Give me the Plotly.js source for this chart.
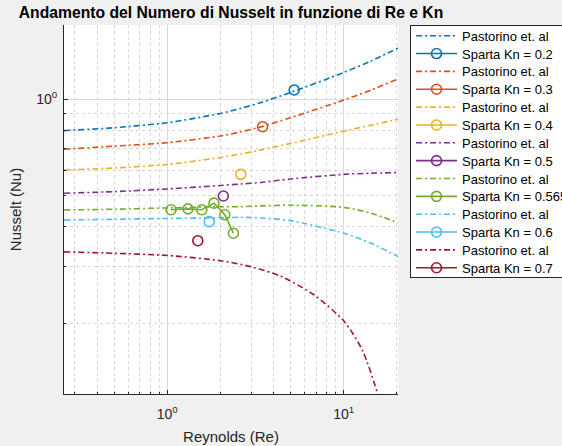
<!DOCTYPE html>
<html>
<head>
<meta charset="utf-8">
<script src="https://cdn.plot.ly/plotly-3.0.1.min.js"></script>
<style>
  html, body { margin: 0; padding: 0; background: #f0f0f0; }
  #chart { width: 562px; height: 446px; }
</style>
</head>
<body>
<div id="chart"></div>
<script>
// Reynolds grid for the Pastorino et al. correlation curves
const reGrid = [0.26, 0.5, 1, 2, 2.6, 3.4, 5, 10, 14.3, 20.3];

// Pastorino et al. Nusselt curves, one per Knudsen number
const pastNu02   = [0.798, 0.815, 0.845, 0.903, 0.936, 0.977, 1.050, 1.212, 1.317, 1.445];
const pastNu03   = [0.698, 0.714, 0.732, 0.768, 0.791, 0.820, 0.876, 0.994, 1.069, 1.157];
const pastNu04   = [0.602, 0.610, 0.626, 0.658, 0.675, 0.695, 0.728, 0.795, 0.830, 0.866];
const pastNu05   = [0.509, 0.515, 0.525, 0.538, 0.544, 0.550, 0.564, 0.583, 0.588, 0.590];
const pastNu0565 = [0.4515, 0.4537, 0.458, 0.462, 0.4622, 0.4648, 0.467, 0.460, 0.441, 0.412];
const pastNu06   = [0.420, 0.422, 0.4246, 0.4268, 0.4283, 0.4262, 0.418, 0.382, 0.3554, 0.3228];

// Kn = 0.7 curve drops steeply, so it has its own Reynolds grid
const reGrid07 = [0.26, 0.5, 1, 2, 2.97, 4.4, 6.8, 10.1, 12.8, 15.6, 17.6];
const pastNu07 = [0.334, 0.3307, 0.3256, 0.3135, 0.3004, 0.2804, 0.245, 0.2023, 0.164, 0.120, 0.0929];

// Sparta DSMC results
const spartaRe02 = [5.24],  spartaNu02 = [1.069];
const spartaRe03 = [3.47],  spartaNu03 = [0.821];
const spartaRe04 = [2.61],  spartaNu04 = [0.583];
const spartaRe05 = [2.08],  spartaNu05 = [0.499];
const spartaRe0565 = [1.05, 1.31, 1.57, 1.84, 2.12, 2.37];
const spartaNu0565 = [0.452, 0.455, 0.452, 0.474, 0.436, 0.382];
const spartaRe06 = [1.73],  spartaNu06 = [0.415];
const spartaRe07 = [1.49],  spartaNu07 = [0.362];

const knLabels = ['0.2', '0.3', '0.4', '0.5', '0.565', '0.6', '0.7'];
const colors = ['#0072BD', '#D95319', '#EDB120', '#7E2F8E', '#77AC30', '#4DBEEE', '#A2142F'];

const pastRe = [reGrid, reGrid, reGrid, reGrid, reGrid, reGrid, reGrid07];
const pastNu = [pastNu02, pastNu03, pastNu04, pastNu05, pastNu0565, pastNu06, pastNu07];
const spRe = [spartaRe02, spartaRe03, spartaRe04, spartaRe05, spartaRe0565, spartaRe06, spartaRe07];
const spNu = [spartaNu02, spartaNu03, spartaNu04, spartaNu05, spartaNu0565, spartaNu06, spartaNu07];

const dashDot = '6px,3px,2px,3px';
const traces = [];
for (let i = 0; i < knLabels.length; i++) {
  traces.push({
    x: pastRe[i], y: pastNu[i],
    type: 'scatter', mode: 'lines',
    name: 'Pastorino et. al',
    line: { color: colors[i], width: 1.6, dash: dashDot, shape: 'spline', smoothing: 0.7 },
    hoverinfo: 'skip'
  });
  traces.push({
    x: spRe[i], y: spNu[i],
    type: 'scatter', mode: 'lines+markers',
    name: 'Sparta Kn = ' + knLabels[i],
    line: { color: colors[i], width: 1.6 },
    marker: { symbol: 'circle-open', size: 10, color: colors[i], line: { width: 1.6, color: colors[i] } }
  });
}

const font = 'Liberation Sans, Arial, Helvetica, sans-serif';
const gridMajor = '#d9d9d9';
const gridMinor = '#d6d6d6';
const axisColor = '#262626';

const layout = {
  width: 562, height: 446,
  paper_bgcolor: '#f0f0f0',
  plot_bgcolor: '#ffffff',
  margin: { l: 64, r: 164, t: 25, b: 52, autoexpand: false },
  font: { family: font, color: '#262626', size: 13 },
  title: {
    text: '<b>Andamento del Numero di Nusselt in funzione di Re e Kn</b>',
    font: { family: font, size: 15.7, color: '#000000' },
    x: 0.5, xref: 'paper', xanchor: 'center',
    y: 0.972, yref: 'container', yanchor: 'middle'
  },
  xaxis: {
    type: 'log',
    range: [Math.log10(0.26), Math.log10(20.3)],
    tickmode: 'array', tickvals: [1, 10], ticktext: ['10<sup>0</sup>', '10<sup>1</sup>'],
    ticks: 'inside', ticklen: 4, tickcolor: axisColor, ticklabelstandoff: 7,
    tickfont: { size: 14, color: '#262626' },
    showgrid: true, gridcolor: gridMajor, gridwidth: 1,
    minor: {
      tickmode: 'array',
      tickvals: [0.3, 0.4, 0.5, 0.6, 0.7, 0.8, 0.9, 2, 3, 4, 5, 6, 7, 8, 9, 20],
      ticks: 'inside', ticklen: 2, tickcolor: axisColor,
      showgrid: true, gridcolor: gridMinor, griddash: 'dot', gridwidth: 1
    },
    showline: true, linecolor: axisColor, linewidth: 1, mirror: false,
    zeroline: false,
    title: { text: 'Reynolds (Re)', font: { size: 15, color: '#262626' }, standoff: 10 }
  },
  yaxis: {
    type: 'log',
    range: [Math.log10(0.1203), Math.log10(1.705)],
    tickmode: 'array', tickvals: [1], ticktext: ['10<sup>0</sup>'],
    ticks: 'inside', ticklen: 4, tickcolor: axisColor, ticklabelstandoff: 3,
    tickfont: { size: 14, color: '#262626' },
    showgrid: true, gridcolor: gridMajor, gridwidth: 1,
    minor: {
      tickmode: 'array',
      tickvals: [0.2, 0.3, 0.4, 0.5, 0.6, 0.7, 0.8, 0.9],
      ticks: 'inside', ticklen: 2, tickcolor: axisColor,
      showgrid: true, gridcolor: gridMinor, griddash: 'dot', gridwidth: 1
    },
    showline: true, linecolor: axisColor, linewidth: 1, mirror: false,
    zeroline: false,
    title: { text: 'Nusselt (Nu)', font: { size: 15, color: '#262626' }, standoff: 10 }
  },
  showlegend: true,
  legend: {
    x: 1.036, xanchor: 'left', xref: 'paper',
    y: 1, yanchor: 'top', yref: 'paper',
    bgcolor: '#ffffff', bordercolor: '#262626', borderwidth: 1,
    font: { family: font, size: 13, color: '#000000' },
    itemwidth: 41,
    tracegroupgap: 0, traceorder: 'normal'
  }
};

Plotly.newPlot('chart', traces, layout, { staticPlot: true, displayModeBar: false }).then(function (gd) {
  // tighten the legend rows to a compact, even pitch
  const leg = gd.querySelector('.legend');
  if (!leg) return;
  const rows = leg.querySelectorAll('.traces');
  const pitch = 17.85, firstRow = 10.7;
  rows.forEach(function (g, i) {
    const m = /translate\(\s*([-\d.e]+)[ ,]+([-\d.e]+)\s*\)/.exec(g.getAttribute('transform') || '');
    const x = m ? m[1] : 0;
    g.setAttribute('transform', 'translate(' + x + ',' + (firstRow + i * pitch) + ')');
  });
  const bg = leg.querySelector('rect.bg');
  if (bg) bg.setAttribute('height', firstRow + (rows.length - 1) * pitch + 9.6);
});
</script>
</body>
</html>
